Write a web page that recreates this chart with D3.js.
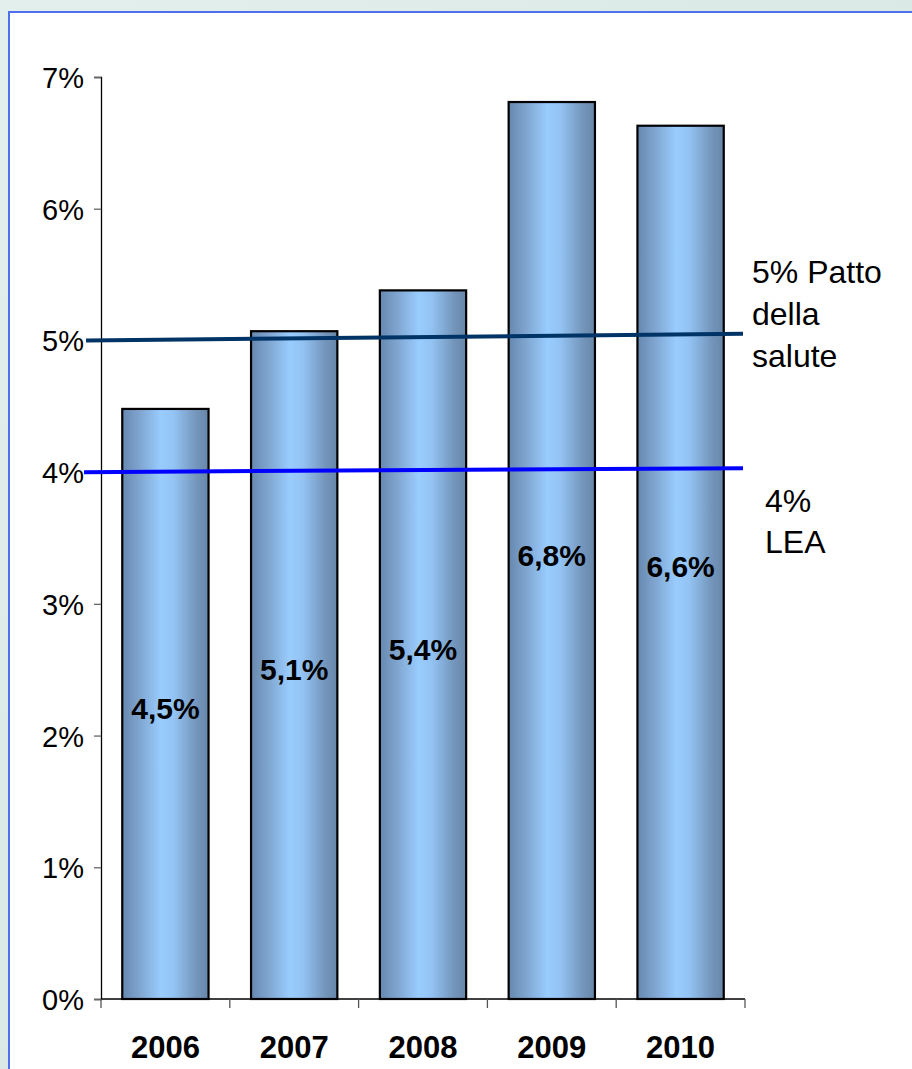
<!DOCTYPE html>
<html><head><meta charset="utf-8">
<script src="https://cdn.jsdelivr.net/npm/d3@7"></script>
<style>
html,body{margin:0;padding:0;background:#dfece8;}
svg{display:block;font-family:"Liberation Sans",Arial,sans-serif;}
</style></head>
<body>
<svg id="chart" width="912" height="1069"></svg>
<script>
const years = ["2006","2007","2008","2009","2010"];
const values = [4.48, 5.07, 5.38, 6.81, 6.63];
const yTicks = [0,1,2,3,4,5,6,7];
const pattoLine = [5.0, 5.05];
const leaLine = [4.0, 4.03];
const pattoLabel = ["5% Patto","della","salute"];
const leaLabel = ["4%","LEA"];

const svg = d3.select("#chart");
const W = 912, H = 1069;
const defs = svg.append("defs");
const bg = defs.append("linearGradient").attr("id","bg").attr("x1","0").attr("y1","0").attr("x2","1").attr("y2","1");
bg.append("stop").attr("offset","0").attr("stop-color","#e3efec");
bg.append("stop").attr("offset","1").attr("stop-color","#d2e3df");
const g = defs.append("linearGradient").attr("id","barG").attr("x1","0").attr("y1","0").attr("x2","1").attr("y2","0");
[["0","#6688b0"],["0.2","#7fa5cf"],["0.45","#99ccff"],["0.6","#93c3f3"],["0.85","#7597bd"],["1","#6786a8"]]
  .forEach(([o,c])=>g.append("stop").attr("offset",o).attr("stop-color",c));

svg.append("rect").attr("width",W).attr("height",H).attr("fill","url(#bg)");
svg.append("rect").attr("x",9).attr("y",12).attr("width",W).attr("height",H)
  .attr("fill","#fff").attr("stroke","#4d6ff0").attr("stroke-width",2);

const x = d3.scaleBand().domain(years).range([101,745]).paddingInner(0.33).paddingOuter(0.165);
const y = d3.scaleLinear().domain([0,7]).range([999,77]);

// y axis
const yAxis = d3.axisLeft(y).tickValues(yTicks).tickSize(7).tickPadding(10).tickFormat(d=>d+"%");
const ya = svg.append("g").attr("transform","translate(101,0)").call(yAxis);
ya.select(".domain").attr("stroke","#000").attr("stroke-width",1.3);
ya.selectAll(".tick line").attr("stroke","#666").attr("stroke-width",1.3);
ya.selectAll(".tick text").attr("font-size",29).attr("fill","#000")
  .attr("font-family","Liberation Sans, Arial, sans-serif").attr("dy","0.36em");

// bars
svg.append("g").selectAll("rect").data(values).join("rect")
  .attr("x",(d,i)=>x(years[i]))
  .attr("y",d=>y(d))
  .attr("width",x.bandwidth())
  .attr("height",d=>y(0)-y(d))
  .attr("fill","url(#barG)").attr("stroke","#000").attr("stroke-width",2.2);

// x axis
const step = x.step();
const bounds = years.map((d,i)=>x.range()[0]+i*step).concat([x.range()[1]]);
const xa = svg.append("g");
xa.append("line").attr("x1",x.range()[0]).attr("x2",x.range()[1]).attr("y1",y(0)).attr("y2",y(0))
  .attr("stroke","#000").attr("stroke-width",1.3);
xa.selectAll("line.t").data(bounds).join("line").attr("class","t")
  .attr("x1",d=>d).attr("x2",d=>d).attr("y1",y(0)).attr("y2",y(0)+9)
  .attr("stroke","#555").attr("stroke-width",1.3);
xa.selectAll("text").data(years).join("text")
  .attr("x",d=>x(d)+x.bandwidth()/2).attr("y",y(0)+59)
  .attr("text-anchor","middle").attr("font-size",31).attr("font-weight","bold").text(d=>d);

// reference lines
const lineX0 = x.range()[0]-15, lineX1 = x.range()[1]-2;
svg.append("line").attr("x1",lineX0).attr("x2",lineX1)
  .attr("y1",y(pattoLine[0])).attr("y2",y(pattoLine[1]))
  .attr("stroke","#003366").attr("stroke-width",4);
svg.append("line").attr("x1",lineX0-2).attr("x2",lineX1)
  .attr("y1",y(leaLine[0])).attr("y2",y(leaLine[1]))
  .attr("stroke","#0000ff").attr("stroke-width",4);

// bar value labels
svg.append("g").selectAll("text").data(values).join("text")
  .attr("x",(d,i)=>x(years[i])+x.bandwidth()/2)
  .attr("y",d=>y(d/2)+15)
  .attr("text-anchor","middle").attr("font-size",30).attr("font-weight","bold")
  .text(d=>d.toFixed(1).replace(".",",")+"%");

// side labels
svg.append("g").selectAll("text").data(pattoLabel).join("text")
  .attr("x",752).attr("y",(d,i)=>283+i*42).attr("font-size",32).text(d=>d);
svg.append("g").selectAll("text").data(leaLabel).join("text")
  .attr("x",765).attr("y",(d,i)=>512+i*41).attr("font-size",32).text(d=>d);
</script>
</body></html>
